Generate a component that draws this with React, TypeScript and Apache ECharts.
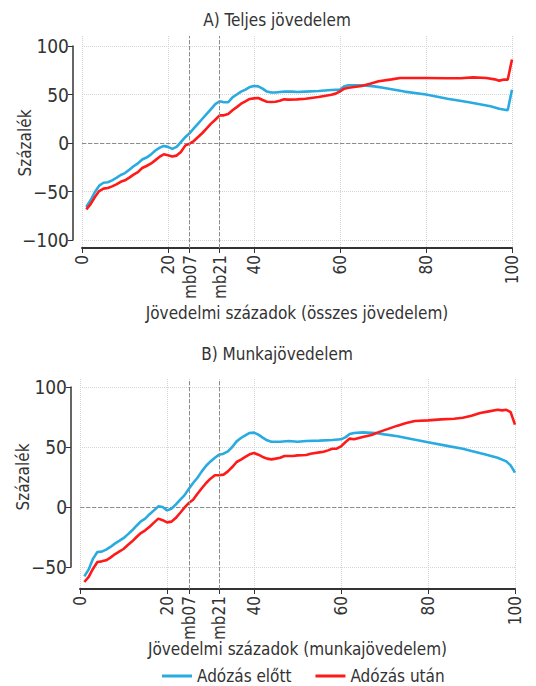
import React, { useEffect, useRef } from "react";
import * as echarts from "echarts";

// ---- Panel A: Teljes jövedelem ----
const aBeforeX = [1,2,3,4,5,6,7,8,9,10,11,12,13,14,15,16,17,18,19,20,21,22,23,24,25,26,27,28,29,30,31,32,33,34,35,36,37,38,39,40,41,42,43,44,45,46,47,48,49,50,52,55,58,60,61,62,65,68,70,75,80,85,90,95,97,99,100];
const aBeforeY = [-66,-59,-50.5,-44,-41,-40.5,-38.5,-36,-33,-31,-27.5,-24,-21,-17,-15,-12,-8,-5,-3,-4,-6,-4,1,6,10,15,20,25,30,35,40,43,42,42,47,50,53,55,57.7,58.8,58.4,56,53,52,52,52.5,53,53,53,52.5,53,53.6,54.6,55,58.4,59.5,59.5,58.4,57,53,50,45.7,42,37.8,35.4,33.7,55];
const aAfterX = [1,2,3,4,5,6,7,8,9,10,11,12,13,14,15,16,17,18,19,20,21,22,23,24,25,26,27,28,29,30,31,32,33,34,35,36,37,38,39,40,41,42,43,44,45,46,47,48,50,52,55,58,59,60,61,62,65,67,69,72,74,76,80,85,88,91,94,96,97,98,99,100];
const aAfterY = [-68.4,-63,-55.7,-49.5,-47,-46.4,-44.7,-42.6,-40,-38.5,-35.7,-32.6,-30,-25.8,-23.7,-21.3,-17.9,-14.4,-11.7,-12.7,-14,-13,-9.3,-2.7,-0.7,2,6.2,10.3,15,20,24,28.5,28.5,30,33.7,37,40.5,43,45.4,46,46.4,44.3,42.6,42.3,42.6,43.6,45,44.7,45,45.7,47.4,49.8,50.9,53.3,56,57,58.8,61,63.6,65.6,67,67,67,66.7,66.7,67.7,67,65.6,64.3,65.3,65.3,86];

// ---- Panel B: Munkajövedelem ----
const bBeforeX = [1,2,3,4,5,6,7,8,9,10,11,12,13,14,15,16,17,18,19,20,21,22,23,24,25,26,27,28,29,30,31,32,33,34,35,36,37,38,39,40,41,42,43,44,46,48,50,52,55,58,60,61,62,63,65,68,70,73,75,80,85,88,90,93,96,98,99,100];
const bBeforeY = [-57.8,-52,-43,-37.5,-37.2,-35.5,-33.3,-30.5,-28.3,-26,-22.8,-19.4,-15.6,-12,-9.7,-6,-2.8,0.5,0,-2.8,-1.4,2,6,9.7,15,20,24.4,29.7,34.4,38,41,43.6,44.4,46.4,50,54.7,57.5,59.7,61.7,62,60.3,57.8,55.6,54.4,54.4,55,54.4,55,55.3,55.8,56.4,58,60.8,61.7,62.2,61.7,60.5,58.9,57.5,54,50.5,48.6,46.7,43.9,41,38,34.7,28.6];
const bAfterX = [1,2,3,4,5,6,7,8,9,10,11,12,13,14,15,16,17,18,19,20,21,22,23,24,25,26,27,28,29,30,31,32,33,34,35,36,37,38,39,40,41,42,43,44,45,46,47,49,50,52,53,55,56,57,58,59,60,61,62,63,65,67,69,71,73,75,77,80,83,86,88,90,92,94,96,97,98,99,100];
const bAfterY = [-62.5,-58.3,-51.4,-45.8,-45.3,-44.4,-42.2,-39.4,-37.2,-35,-31.7,-28.6,-25,-21.7,-19.4,-16.4,-13,-9.7,-11,-12.8,-12.2,-9.2,-5,-0.6,3.3,6,11,15.6,20,23.6,26.4,26.4,27,29.7,33.3,37.5,39.4,41.7,43.9,45,43.6,41.7,40.3,39.7,40.3,41,42.5,42.5,43,43.3,44.4,45.5,46,47.2,48.6,48.6,50.5,54,57,56.4,58.3,60,62.8,65.3,67.8,70,71.7,72.2,73,73.6,74.4,76,78.3,79.7,81,80.5,81,79,68.6];

// ---- Axes / texts ----
const xTickValues = [0, 20, 25, 32, 40, 60, 80, 100];
const xTickNames: Record<number, string> = { 25: "mb07", 32: "mb21" };
const refLines = [25, 32];
const titles = ["A) Teljes jövedelem", "B) Munkajövedelem"];
const xNames = ["Jövedelmi századok (összes jövedelem)", "Jövedelmi századok (munkajövedelem)"];
const yName = "Százalék";
const seriesNames = ["Adózás előtt", "Adózás után"];
const yRanges = [[-100, 100], [-50, 100]];

const FONT = '"Liberation Sans Narrow", "DejaVu Sans Condensed", "Roboto Condensed", "Liberation Sans", sans-serif';
const BLUE = "#29ABE2";
const RED = "#FF1A1A";
const AXIS = "#333333";
const GRIDC = "#d4d4d4";

const zip = (xs: number[], ys: number[]) => xs.map((x, i) => [x, ys[i]]);
const fmtY = (v: number) => (v < 0 ? "\u2212" + Math.abs(v) : String(v));

export default function App() {
  const ref = useRef<HTMLDivElement>(null);
  useEffect(() => {
    if (!ref.current) return;
    const chart = echarts.init(ref.current, null, { renderer: "svg" });

    // data grids (y range only) and plot-region grids (x axis, verticals)
    const dataGrids = [
      { left: 82, top: 46, width: 430, height: 194 },
      { left: 80, top: 387, width: 435, height: 180 },
    ];
    const plotGrids = [
      { left: 82, top: 36, width: 430, height: 212 },
      { left: 80, top: 379, width: 435, height: 210 },
    ];
    const grids = [...dataGrids, ...plotGrids].map((g) => ({ ...g, outerBoundsMode: "none", containLabel: false }));

    const xAxes: any[] = [];
    const yAxes: any[] = [];
    // data grid axes (0,1)
    dataGrids.forEach((_, i) => {
      xAxes.push({ type: "value", gridIndex: i, min: 0, max: 100, show: false });
      yAxes.push({
        type: "value",
        gridIndex: i,
        min: yRanges[i][0],
        max: yRanges[i][1],
        interval: 50,
        offset: 9,
        name: yName,
        nameLocation: "middle",
        nameGap: 40,
        nameMoveOverlap: false,
        nameRotate: 90,
        nameTextStyle: { fontFamily: FONT, fontSize: 17, color: AXIS },
        axisLine: { show: true, onZero: false, lineStyle: { color: AXIS, width: 1.5 } },
        axisTick: { show: true, length: 5, lineStyle: { color: AXIS } },
        axisLabel: { fontFamily: FONT, fontSize: 19, color: AXIS, margin: 4, formatter: fmtY, showMinLabel: true, showMaxLabel: true },
        splitLine: { show: true, lineStyle: { color: GRIDC, type: "dotted", width: 1 } },
      });
    });
    // plot-region axes (2,3)
    plotGrids.forEach((_, i) => {
      xAxes.push({
        type: "value",
        gridIndex: 2 + i,
        min: 0,
        max: 100,
        interval: 20,
        name: xNames[i],
        nameLocation: "middle",
        nameGap: i === 0 ? 56 : 51,
        nameMoveOverlap: false,
        nameTextStyle: { fontFamily: FONT, fontSize: 17, color: AXIS },
        axisLine: { show: true, onZero: false, lineStyle: { color: AXIS, width: 2 } },
        axisTick: { show: true, length: 5, customValues: xTickValues, lineStyle: { color: AXIS } },
        axisLabel: {
          customValues: xTickValues,
          rotate: 90,
          margin: 7,
          fontFamily: FONT,
          fontSize: 17,
          color: AXIS,
          showMinLabel: true,
          showMaxLabel: true,
          formatter: (v: number) => xTickNames[v] ?? String(v),
        },
        splitLine: { show: true, lineStyle: { color: GRIDC, type: "dotted", width: 1 } },
      });
      yAxes.push({ type: "value", gridIndex: 2 + i, min: 0, max: 1, show: false });
    });

    const panelData = [
      [zip(aBeforeX, aBeforeY), zip(aAfterX, aAfterY)],
      [zip(bBeforeX, bBeforeY), zip(bAfterX, bAfterY)],
    ];

    const series: any[] = [];
    panelData.forEach((_, i) => {
      series.push({
        type: "line",
        name: "ref" + i,
        xAxisIndex: 2 + i,
        yAxisIndex: 2 + i,
        data: [],
        symbol: "none",
        z: 1,
        markLine: {
          silent: true,
          symbol: "none",
          label: { show: false },
          lineStyle: { color: "#8c8c8c", type: "dashed", width: 1 },
          data: refLines.map((x) => ({ xAxis: x })),
        },
      });
    });
    panelData.forEach((pair, i) => {
      pair.forEach((data, j) => {
        const s: any = {
          type: "line",
          name: seriesNames[j],
          xAxisIndex: i,
          yAxisIndex: i,
          data,
          symbol: "none",
          clip: false,
          z: 3 + j,
          lineStyle: { color: j === 0 ? BLUE : RED, width: 2.6 },
          itemStyle: { color: j === 0 ? BLUE : RED },
        };
        if (j === 0) {
          s.markLine = {
            silent: true,
            symbol: "none",
            label: { show: false },
            z: 2,
            lineStyle: { color: "#8c8c8c", type: "dashed", width: 1 },
            data: [{ yAxis: 0 }],
          };
        }
        series.push(s);
      });
    });

    chart.setOption({
      animation: false,
      backgroundColor: "#ffffff",
      textStyle: { fontFamily: FONT },
      title: titles.map((t, i) => ({
        text: t,
        left: 272,
        top: i === 0 ? 6 : 340,
        textAlign: "center",
        textStyle: { fontFamily: FONT, fontSize: 17, fontWeight: "normal", color: AXIS },
      })),
      legend: {
        data: seriesNames,
        left: 162,
        top: 667,
        padding: 0,
        icon: "rect",
        itemWidth: 30,
        itemHeight: 3,
        itemGap: 24,
        textStyle: { fontFamily: FONT, fontSize: 17, lineHeight: 18, color: AXIS },
      },
      grid: grids,
      xAxis: xAxes,
      yAxis: yAxes,
      series,
    } as any);

    return () => chart.dispose();
  }, []);

  return <div ref={ref} style={{ position: "absolute", left: 0, top: 0, width: 536, height: 686 }} />;
}
